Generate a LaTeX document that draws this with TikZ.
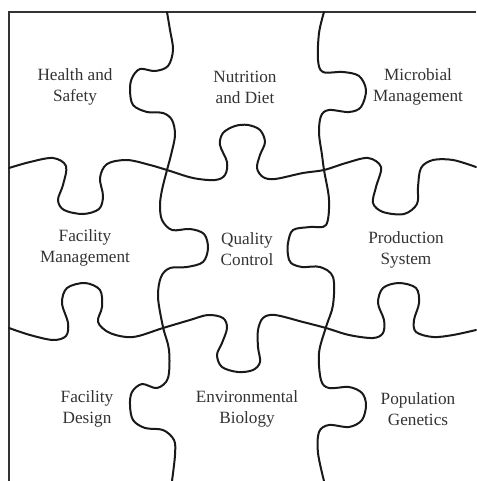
\documentclass[tikz,border=0pt]{standalone}
\usepackage{fontspec}
\setmainfont{Liberation Serif}
\begin{document}
\begin{tikzpicture}[x=1pt,y=-1pt,
  cut/.style={line width=2pt,black!90,line cap=round,line join=round},
  frameline/.style={line width=2pt,black!80},
  label/.style={align=center,text=black!80,font=\fontsize{17.2}{21}\selectfont,inner sep=0pt}]
\useasboundingbox (0,0) rectangle (476,481);
% outer frame (top and left edges)
\draw[frameline] (476,12) -- (9,12) -- (9,481);
% horizontal cut, upper
\draw[cut] plot[smooth,tension=0.55] coordinates {
 (9,168) (30,162) (53,158) (66,166) (63,185) (58,200) (64,210) (83,214) (99,209)
 (103,196) (100,178) (107,164) (127,160) (150,165) (167,170) (193,178) (215,180)
 (225,175) (227,162) (220,145) (223,133) (235,126) (248,125) (260,130) (265,142)
 (260,155) (257,168) (263,177) (275,179) (303,173) (324,170) (346,163) (368,158)
 (381,167) (376,187) (373,203) (383,212) (404,214) (417,204) (418,187) (421,168)
 (433,160) (453,160) (476,167)};
% horizontal cut, lower
\draw[cut] plot[smooth,tension=0.55] coordinates {
 (9,328) (30,335) (53,340) (66,336) (68,323) (62,303) (67,288) (85,283) (100,290)
 (102,307) (98,322) (110,333) (133,337) (163,328) (190,320) (208,315) (223,318)
 (227,328) (222,343) (217,355) (222,367) (238,372) (253,370) (260,362) (258,347)
 (258,330) (263,318) (275,315) (303,322) (326,328) (349,335) (373,338) (383,333)
 (384,320) (378,303) (383,288) (399,283) (416,288) (419,303) (414,320) (416,332)
 (433,337) (453,335) (476,330)};
% vertical cut, left
\draw[cut] plot[smooth,tension=0.55] coordinates {
 (167,12) (170,30) (173,50) (168,66) (155,71) (140,69) (132,78) (130,90) (133,105)
 (147,112) (163,113) (172,120) (175,135) (171,155) (167,170) (162,190) (160,205)
 (162,220) (172,230) (190,229) (204,234) (208,248) (203,262) (187,267) (170,268)
 (161,277) (158,297) (163,327) (169,350) (168,378) (157,388) (142,384) (132,392)
 (130,405) (133,420) (145,428) (163,430) (174,440) (175,455) (172,481)};
% vertical cut, right
\draw[cut] plot[smooth,tension=0.55] coordinates {
 (324,12) (319,33) (318,60) (323,72) (343,72) (359,76) (366,90) (361,107) (349,112)
 (329,110) (321,116) (319,133) (322,155) (324,170) (329,200) (326,225) (310,227)
 (293,230) (288,243) (288,255) (291,263) (302,267) (320,267) (333,277) (333,305)
 (326,327) (319,353) (321,380) (329,388) (349,387) (362,393) (366,405) (362,420)
 (349,427) (329,425) (319,432) (318,453) (324,481)};
% piece labels
\node[label] (hs)  at (75,87)   {Health and\\Safety};
\node[label] (nd)  at (245,87)  {Nutrition\\and Diet};
\node[label] (mm)  at (418,87)  {Microbial\\Management};
\node[label] (fm)  at (85,248)  {Facility\\Management};
\node[label] (qc)  at (247,249) {Quality\\Control};
\node[label] (ps)  at (406,250) {Production\\System};
\node[label] (fd)  at (87,409)  {Facility\\Design};
\node[label] (eb)  at (247,409) {Environmental\\Biology};
\node[label] (pg)  at (418,409) {Population\\Genetics};
\end{tikzpicture}
\end{document}
